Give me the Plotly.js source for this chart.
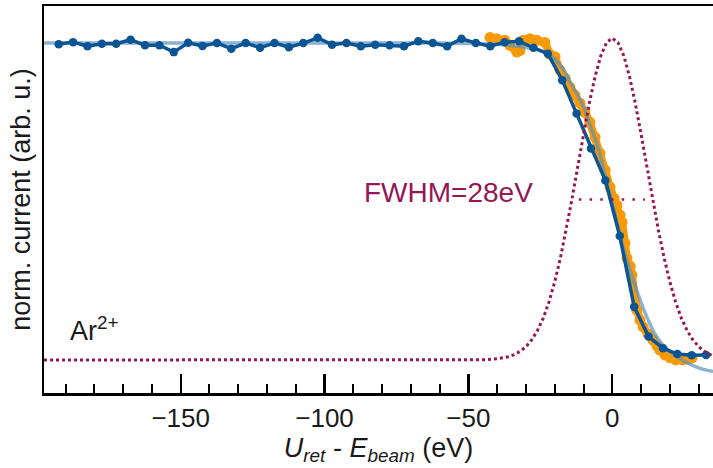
<!DOCTYPE html>
<html>
<head>
<meta charset="utf-8">
<script src="https://cdn.plot.ly/plotly-3.0.1.min.js"></script>
<style>html,body{margin:0;padding:0;background:#fff;}#chart{width:713px;height:468px;}</style>
</head>
<body>
<div id="chart"></div>
<script>
// Measured data (dark blue)
const measX = [-192.4,-187.4,-182.4,-177.4,-172.4,-167.4,-162.4,-157.4,-152.4,-147.4,-142.4,-137.4,-132.4,-127.4,-122.4,-117.4,-112.4,-107.4,-102.4,-97.4,-92.4,-87.4,-82.4,-77.4,-72.4,-67.4,-62.4,-57.4,-52.4,-47.4,-42.4,-37.4,-32.4,-27.4,-22.4,-17.4,-12.4,-7.4,-2.4,2.6,7.6,12.6,17.6,22.6,27.6,32.6];
const measY = [1.000,1.007,0.994,1.002,1.002,1.015,0.997,0.997,0.975,1.005,0.995,1.004,0.986,1.004,0.989,1.004,0.991,1.004,1.021,0.999,1.004,0.994,0.999,0.997,0.994,1.010,1.004,0.994,1.018,1.004,0.994,1.007,1.010,0.989,0.970,0.885,0.778,0.666,0.563,0.385,0.158,0.062,0.025,0.006,0.002,0.003];

// Dense scan (orange)
const scanX = [-42.5,-40.2,-37.3,-35.6,-33.2,-32.1,-31.0,-28.6,-26.2,-23.4,-21.7,-19.9,-18.2,-16.4,-14.7,-13.0,-11.2,-9.5,-7.8,-6.0,-4.3,-2.5,-0.8,0.6,1.6,2.7,3.4,4.4,5.1,6.2,6.8,8.5,9.6,10.7,12.4,14.1,15.5,16.5,18.3,20.1,22.1,24.5,26.3,27.7];
const scanY = [1.022,1.018,1.013,0.997,0.975,0.980,1.013,1.018,1.013,1.006,0.968,0.960,0.917,0.891,0.862,0.837,0.811,0.782,0.750,0.702,0.651,0.596,0.542,0.506,0.484,0.452,0.429,0.362,0.314,0.288,0.260,0.147,0.115,0.093,0.070,0.051,0.032,0.019,0.003,-0.006,-0.013,-0.013,-0.010,-0.006];

// Fit curve (light blue)
const fitX = [-197.5,-60,-40,-30,-25,-21.6,-17,-14.7,-10,-7.7,-5,-2.5,0,3.7,5,8.5,12,15.4,19,22.4,26,30.5,35];
const fitY = [1.004,1.004,1.0,0.99,0.98,0.965,0.92,0.88,0.80,0.74,0.67,0.58,0.49,0.35,0.31,0.21,0.125,0.062,0.022,-0.002,-0.022,-0.04,-0.05];

// Energy distribution (magenta dotted)
const distX = [-197.5,-44,-40,-38,-36,-34,-32,-30,-28,-26,-24,-22,-20,-18,-16,-14,-12,-10,-8,-6,-4,-2,0,2,4,6,8,10,12,14,16,18,20,22,24,26,28,30,32,34,35];
const distY = [-0.013,-0.012,-0.0094,-0.0068,-0.0025,0.0044,0.0146,0.0298,0.0516,0.0815,0.1213,0.173,0.238,0.3155,0.4043,0.5035,0.6078,0.7122,0.8103,0.896,0.963,1.0055,1.020,1.0055,0.963,0.896,0.8103,0.7122,0.6078,0.5035,0.4043,0.3155,0.238,0.173,0.1213,0.0815,0.0516,0.0298,0.0146,0.0044,0.0005];

// FWHM marker line
const fwhmX = [-11.6, 11.3];
const fwhmY = [0.502, 0.502];

const tickVals = [-150,-100,-50,0];
const tickText = ['\u2212150','\u2212100','\u221250','0'];

const cBlue = '#0b5594';
const cLight = 'rgba(90,145,190,0.7)';
const cOrange = '#f89a06';
const cMag = '#951755';
const cText = '#1a1a1a';
const font = 'Liberation Sans, Arial, sans-serif';

const traces = [
  {x: scanX, y: scanY, mode: 'lines+markers', line: {color: cOrange, width: 8}, marker: {color: cOrange, size: 11}, hoverinfo: 'skip'},
  {x: fitX, y: fitY, mode: 'lines', line: {color: cLight, width: 3.5, shape: 'spline'}, hoverinfo: 'skip'},
  {x: measX, y: measY, mode: 'lines+markers', line: {color: cBlue, width: 3.5}, marker: {color: cBlue, size: 8.5}, hoverinfo: 'skip'},
  {x: distX, y: distY, mode: 'lines', line: {color: cMag, width: 3, dash: 'dot'}, hoverinfo: 'skip'},
  {x: fwhmX, y: fwhmY, mode: 'lines', line: {color: cMag, width: 2.5, dash: '2.5px,8.2px'}, hoverinfo: 'skip'}
];

const layout = {
  width: 713, height: 468,
  margin: {l: 44, r: 0, t: 6, b: 75},
  paper_bgcolor: '#fff', plot_bgcolor: '#fff',
  showlegend: false,
  font: {family: font, color: cText, size: 24},
  xaxis: {
    range: [-197.5, 35],
    showgrid: false, zeroline: false,
    showline: true, linecolor: '#000', linewidth: 2.5, mirror: true,
    ticks: 'inside', ticklen: 19, tickwidth: 2.2, tickcolor: '#000',
    tickmode: 'array', tickvals: tickVals, ticktext: tickText,
    tickfont: {family: font, size: 26, color: cText},
    minor: {tickmode: 'linear', tick0: 0, dtick: 10, ticks: 'inside', ticklen: 9, tickwidth: 2, tickcolor: '#000', showgrid: false},
    title: {text: '<i>U</i><sub><i>ret</i></sub> - <i>E</i><sub><i>beam</i></sub> (eV)', font: {family: font, size: 27, color: cText}, standoff: 2}
  },
  yaxis: {
    range: [-0.119, 1.123],
    showgrid: false, zeroline: false, showticklabels: false, ticks: '',
    showline: true, linecolor: '#000', linewidth: 2.5,
    title: {text: 'norm. current (arb. u.)', font: {family: font, size: 27, color: cText}, standoff: 3}
  },
  annotations: [
    {x: -189.2, y: 0.085, xref: 'x', yref: 'y', text: 'Ar<sup>2+</sup>', showarrow: false, xanchor: 'left', yanchor: 'middle', font: {family: font, size: 27, color: cText}},
    {x: -27.0, y: 0.525, xref: 'x', yref: 'y', text: 'FWHM=28eV', showarrow: false, xanchor: 'right', yanchor: 'middle', font: {family: font, size: 28, color: cMag}}
  ]
};

Plotly.newPlot('chart', traces, layout, {staticPlot: true, displayModeBar: false});
</script>
</body>
</html>
